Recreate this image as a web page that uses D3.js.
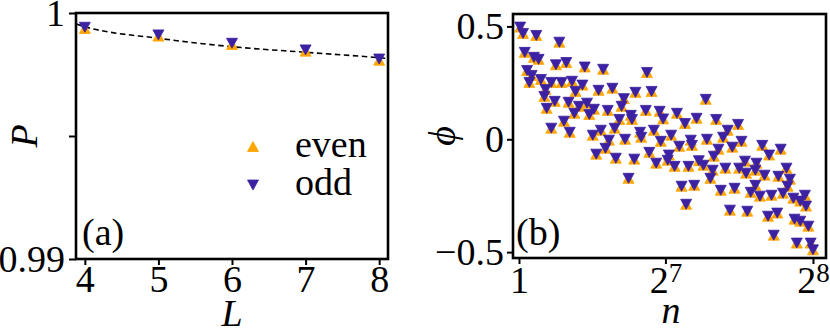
<!DOCTYPE html>
<html><head><meta charset="utf-8">
<script src="https://cdn.jsdelivr.net/npm/d3@7"></script>
<style>
body{margin:0;background:#fff}
svg{display:block}
</style>
</head><body>
<svg id="c" width="830" height="332"></svg>
<script>
// ---------- Panel (a) data ----------
const L = [4, 5, 6, 7, 8];
const P_even = [0.99937, 0.99906, 0.99872, 0.99845, 0.99808];
const P_odd  = [0.99942, 0.99911, 0.99877, 0.99850, 0.99813];
const fitL = [3.88, 4, 5, 6, 7, 8, 8.12];
const fitP = [0.999553, 0.999443, 0.998972, 0.998630, 0.998402, 0.998183, 0.998150];
const aXTicks = [4, 5, 6, 7, 8];
const aYTicks = [0.99, 0.995, 1];
const aYTickLabels = ["0.99", "", "1"];

// ---------- Panel (b) data ----------
const nValues = [2,4.5,6,8,10,12,14,16,18,20,23,24,25,29,29,32,33,36,38,40,42,44,45,47,49,50,
53,56,58,60,62,65,66,68,70,72,74,76,78,79,82,84,85,88,90,92,93,96,98,99,101,102,
106,107,111,112,114,116,118,120,123,124,126,130,131,133,136,138,140,142,145,146,148,150,151,153,155,157,
161,163,164,167,169,170,172,174,176,178,180,182,184,186,188,191,192,194,197,198,199,202,
206,206,207,210,212,214,217,218,220,222,225,226,228,230,233,234,236,239,240,242,245,245,249,250,252,254,256];
const phiOdd = [0.497,0.469,0.385,0.305,0.252,0.283,0.363,0.46,0.354,0.265,0.19,0.22,0.137,0.252,0.049,0.168,0.33,0.43,0.252,0.08,0.34,0.164,0.031,0.257,0.115,0.212,
0.146,0.24,0.32,0.16,0.11,0.018,0.133,-0.066,0.217,0.04,0.31,-0.04,0.128,-0.004,0.226,0.049,-0.084,0.088,0.146,0.18,0,-0.173,0.106,0.088,-0.088,0.208,
0.031,0.009,0.128,0.296,-0.058,0.212,0.04,-0.106,0.124,-0.009,0.09,-0.093,-0.07,0.018,-0.12,0.115,-0.031,-0.208,0.07,-0.288,-0.12,-0.004,-0.027,-0.204,0.093,-0.095,
-0.115,0.177,0,-0.173,-0.137,-0.075,0.088,-0.044,-0.226,0.009,-0.128,0.04,-0.314,-0.035,-0.217,0.066,-0.128,-0.009,-0.097,-0.15,-0.319,-0.235,
-0.137,-0.204,-0.106,-0.252,-0.027,-0.159,-0.341,-0.07,-0.248,-0.425,-0.327,-0.164,-0.044,-0.239,-0.128,-0.208,-0.177,-0.261,-0.354,-0.46,-0.274,-0.363,-0.248,-0.296,-0.385,-0.46,-0.49];
// even and odd markers coincide in the picture
const phiEven = phiOdd;
const bXTicks = [1, 128, 256];
const bXTickBase = ["1", "2", "2"];
const bXTickSup = ["", "7", "8"];
const bYTicks = [-0.5, 0, 0.5];
const bYTickLabels = ["\u22120.5", "0", "0.5"];

const FONT = "Liberation Serif";
const svg = d3.select("#c");
svg.append("rect").attr("width",830).attr("height",332).attr("fill","#fff");
const FS = 38;
const ORANGE = "#ffa500", PURPLE = "#3c22a2";
const TW = 11, TH = 10;
function tri(up){
  return up ? `M0,${-TH/2}L${TW/2},${TH/2}L${-TW/2},${TH/2}Z`
            : `M0,${TH/2}L${TW/2},${-TH/2}L${-TW/2},${-TH/2}Z`;
}
function txt(sel){ return sel.attr("font-family", FONT).attr("fill","#000"); }
function styleAxis(g){
  g.attr("font-family", FONT).attr("font-size", FS);
  g.select(".domain").remove();
  g.selectAll(".tick line").attr("stroke","#000").attr("stroke-width",2);
  g.selectAll(".tick text").attr("font-size",FS).call(txt);
}

// ================= Panel (a) =================
const aL = 76, aR = 388, aT = 13, aB = 259;
const ax = d3.scaleLinear().domain([3.88, 8.12]).range([aL, aR]);
const ay = d3.scaleLinear().domain([0.99, 1]).range([aB, aT]);

const gax = svg.append("g").attr("transform",`translate(0,${aB})`)
  .call(d3.axisBottom(ax).tickValues(aXTicks).tickSize(6).tickFormat(d=>d));
styleAxis(gax);
gax.selectAll(".tick text").attr("y",33).attr("dy",null);

const gay = svg.append("g").attr("transform",`translate(${aL},0)`)
  .call(d3.axisLeft(ay).tickValues(aYTicks).tickSize(7).tickPadding(4)
    .tickFormat((d,i)=>aYTickLabels[i]));
styleAxis(gay);
gay.selectAll(".tick text").attr("dy","0.33em");

// dashed fit
const fitData = fitL.map((l,i)=>({l, p: fitP[i]}));
svg.append("path").datum(fitData)
  .attr("d", d3.line().x(d=>ax(d.l)).y(d=>ay(d.p)).curve(d3.curveMonotoneX))
  .attr("fill","none").attr("stroke","#000").attr("stroke-width",1.6)
  .attr("stroke-dasharray","5.5,3.5");

svg.append("g").selectAll("path").data(L.map((l,i)=>({l,p:P_even[i]}))).join("path")
  .attr("d", tri(true)).attr("fill",ORANGE).attr("stroke",ORANGE).attr("stroke-width",0.8)
  .attr("transform", d=>`translate(${ax(d.l)},${ay(d.p)})`);
svg.append("g").selectAll("path").data(L.map((l,i)=>({l,p:P_odd[i]}))).join("path")
  .attr("d", tri(false)).attr("fill",PURPLE).attr("stroke",PURPLE).attr("stroke-width",0.8)
  .attr("transform", d=>`translate(${ax(d.l)},${ay(d.p)})`);

// legend
svg.append("path").attr("d",tri(true)).attr("fill",ORANGE).attr("stroke",ORANGE).attr("stroke-width",0.8)
  .attr("transform","translate(253,146.5)");
svg.append("path").attr("d",tri(false)).attr("fill",PURPLE).attr("stroke",PURPLE).attr("stroke-width",0.8)
  .attr("transform","translate(253,185)");
svg.append("text").attr("x",295).attr("y",157).attr("font-size",FS).call(txt).text("even");
svg.append("text").attr("x",295).attr("y",195).attr("font-size",FS).call(txt).text("odd");
svg.append("text").attr("x",82).attr("y",245).attr("font-size",FS).call(txt).text("(a)");

svg.append("rect").attr("x",aL).attr("y",aT).attr("width",aR-aL).attr("height",aB-aT)
  .attr("fill","none").attr("stroke","#000").attr("stroke-width",2.6);

svg.append("text").attr("x",(aL+aR)/2).attr("y",326).attr("text-anchor","middle")
  .attr("font-size",FS).attr("font-style","italic").call(txt).text("L");
svg.append("text").attr("transform",`translate(37,${(aT+aB)/2}) rotate(-90)`).attr("text-anchor","middle")
  .attr("font-size",FS).attr("font-style","italic").call(txt).text("P");

// ================= Panel (b) =================
const bL = 513, bR = 826, bT = 14, bB = 258;
const bx = d3.scaleLinear().domain([-4.2, 267.3]).range([bL, bR]);
const by = d3.scaleLinear().domain([-0.526, 0.555]).range([bB, bT]);

const gbx = svg.append("g").attr("transform",`translate(0,${bB})`)
  .call(d3.axisBottom(bx).tickValues(bXTicks).tickSize(6).tickFormat(""));
styleAxis(gbx);
gbx.selectAll(".tick").each(function(d,i){
  const t = d3.select(this).append("text").attr("y",35).attr("text-anchor","middle")
    .attr("font-size",FS).call(txt);
  t.append("tspan").text(bXTickBase[i]);
  if (bXTickSup[i]) t.append("tspan").attr("dy",-11).attr("font-size",27).text(bXTickSup[i]);
});

const gby = svg.append("g").attr("transform",`translate(${bL},0)`)
  .call(d3.axisLeft(by).tickValues(bYTicks).tickSize(6).tickPadding(3)
    .tickFormat((d,i)=>bYTickLabels[i]));
styleAxis(gby);
gby.selectAll(".tick text").attr("dy","0.33em");

const bEven = nValues.map((n,i)=>({n, v: phiEven[i]}));
const bOdd  = nValues.map((n,i)=>({n, v: phiOdd[i]}));
svg.append("g").selectAll("path").data(bEven).join("path")
  .attr("d", tri(true)).attr("fill",ORANGE).attr("stroke",ORANGE).attr("stroke-width",0.8)
  .attr("transform", d=>`translate(${bx(d.n)},${by(d.v)})`);
svg.append("g").selectAll("path").data(bOdd).join("path")
  .attr("d", tri(false)).attr("fill",PURPLE).attr("stroke",PURPLE).attr("stroke-width",0.8)
  .attr("transform", d=>`translate(${bx(d.n)},${by(d.v)})`);

svg.append("text").attr("x",516).attr("y",245).attr("font-size",FS).call(txt).text("(b)");
svg.append("rect").attr("x",bL).attr("y",bT).attr("width",bR-bL).attr("height",bB-bT)
  .attr("fill","none").attr("stroke","#000").attr("stroke-width",2.6);

svg.append("text").attr("x",671).attr("y",323).attr("text-anchor","middle")
  .attr("font-size",FS).attr("font-style","italic").call(txt).text("n");
svg.append("text").attr("transform",`translate(455,${(bT+bB)/2}) rotate(-90)`).attr("text-anchor","middle")
  .attr("font-size",FS).attr("font-style","italic").call(txt).text("\u03D5");
</script>
</body></html>
